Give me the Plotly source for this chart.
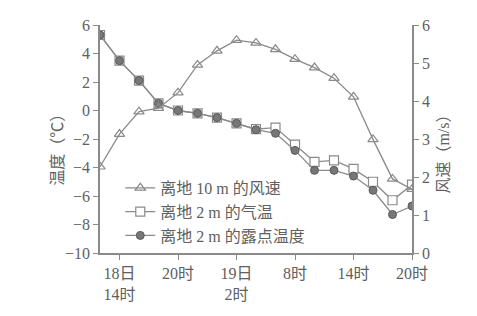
import plotly.graph_objects as go

hours = [12, 14, 16, 18, 20, 22, 24, 26, 28, 30, 32, 34, 36, 38, 40, 42, 44]
wind_10m = [2.27, 3.13, 3.72, 3.81, 4.22, 4.95, 5.32, 5.6, 5.53, 5.36, 5.1, 4.88, 4.6, 4.11, 2.99, 1.95, 1.68]
air_temp_2m = [5.3, 3.5, 2.1, 0.5, 0.0, -0.2, -0.5, -0.9, -1.3, -1.2, -2.4, -3.6, -3.5, -4.1, -5.0, -6.3, -5.2]
dew_point_2m = [5.3, 3.5, 2.1, 0.5, 0.0, -0.2, -0.5, -0.9, -1.35, -1.6, -2.8, -4.2, -4.2, -4.6, -5.6, -7.3, -6.7]

x_tick_vals = [14, 20, 26, 32, 38, 44]
x_tick_text = ["18日<br>14时", "20时", "19日<br>2时", "8时", "14时", "20时"]
temp_ticks = [-10, -8, -6, -4, -2, 0, 2, 4, 6]
wind_ticks = [0, 1, 2, 3, 4, 5, 6]

names = ["离地 10 m 的风速", "离地 2 m 的气温", "离地 2 m 的露点温度"]

LINE = "#8a8a8a"
TXT = "#606060"
FONT = "Liberation Serif, Noto Sans CJK SC, serif"

fig = go.Figure()
fig.add_trace(go.Scatter(
    x=hours, y=wind_10m, name=names[0], yaxis="y2", mode="lines+markers",
    line=dict(color=LINE, width=1.3),
    marker=dict(symbol="triangle-up-open", size=9, color=LINE, line=dict(width=1.2)),
))
fig.add_trace(go.Scatter(
    x=hours, y=air_temp_2m, name=names[1], mode="lines+markers",
    line=dict(color=LINE, width=1.3),
    marker=dict(symbol="square", size=9, color="white", line=dict(color=LINE, width=1.2)),
))
fig.add_trace(go.Scatter(
    x=hours, y=dew_point_2m, name=names[2], mode="lines+markers",
    line=dict(color=LINE, width=1.3),
    marker=dict(symbol="circle", size=8, color="#777777", line=dict(color="#5a5a5a", width=1)),
))

axis_common = dict(
    showline=True, linecolor=LINE, linewidth=1.5, ticks="outside", ticklen=5,
    tickcolor=LINE, tickwidth=1.3, showgrid=False, zeroline=False,
    tickfont=dict(family=FONT, size=16, color=TXT),
)

fig.update_layout(
    width=477, height=316,
    margin=dict(l=100, r=65, t=25, b=63),
    paper_bgcolor="white", plot_bgcolor="white",
    font=dict(family=FONT, color=TXT),
    xaxis=dict(range=[12, 44], tickvals=x_tick_vals, ticktext=x_tick_text, **axis_common),
    yaxis=dict(range=[-10, 6], tickvals=temp_ticks, **axis_common),
    yaxis2=dict(range=[0, 6], tickvals=wind_ticks, overlaying="y", side="right", **axis_common),
    legend=dict(x=0.065, y=0.36, xanchor="left", yanchor="top", bgcolor="rgba(0,0,0,0)",
                font=dict(family=FONT, size=16, color=TXT), tracegroupgap=0, itemwidth=30),
    showlegend=True,
    annotations=[
        dict(text="温度（℃）", xref="paper", yref="paper", x=-0.135, y=0.47, textangle=-90,
             showarrow=False, font=dict(family=FONT, size=16, color=TXT), xanchor="center", yanchor="middle"),
        dict(text="风速（m/s）", xref="paper", yref="paper", x=1.1, y=0.45, textangle=-90,
             showarrow=False, font=dict(family=FONT, size=16, color=TXT), xanchor="center", yanchor="middle"),
    ],
)

fig.write_html("out.html")
